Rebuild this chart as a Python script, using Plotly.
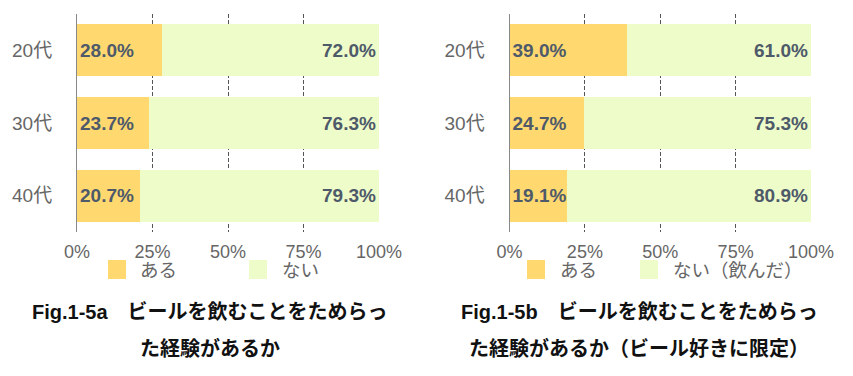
import plotly.graph_objects as go

# ---- data ----
ages = ["20代", "30代", "40代"]
a_names = ["ある", "ない"]
a_aru = [28.0, 23.7, 20.7]
a_nai = [72.0, 76.3, 79.3]
b_names = ["ある", "ない（飲んだ）"]
b_aru = [39.0, 24.7, 19.1]
b_nai = [61.0, 75.3, 80.9]
x_ticks = [0, 25, 50, 75, 100]
x_tick_labels = ["0%", "25%", "50%", "75%", "100%"]
title_a = ["Fig.1-5a　ビールを飲むことをためらっ", "た経験があるか"]
title_b = ["Fig.1-5b　ビールを飲むことをためらっ", "た経験があるか（ビール好きに限定）"]

# ---- style ----
W, H = 853, 376
C_ARU = "#FFD970"
C_NAI = "#EEFCC9"
LBL = "#4E5A6A"
GRAY = "#666666"
FONT = "Liberation Sans, Noto Sans CJK JP, sans-serif"

fig = go.Figure()


def add_pair(aru, nai, xa, ya):
    fig.add_trace(go.Bar(
        y=ages, x=aru, orientation="h", marker=dict(color=C_ARU, line=dict(width=0)),
        text=[f"{v:.1f}%" for v in aru], textposition="inside", insidetextanchor="start",
        textfont=dict(family=FONT, size=19, color=LBL, weight="bold"),
        constraintext="none", xaxis=xa, yaxis=ya, showlegend=False, hoverinfo="skip"))
    fig.add_trace(go.Bar(
        y=ages, x=nai, orientation="h", marker=dict(color=C_NAI, line=dict(width=0)),
        text=[f"{v:.1f}%" for v in nai], textposition="inside", insidetextanchor="end",
        textfont=dict(family=FONT, size=19, color=LBL, weight="bold"),
        constraintext="none", xaxis=xa, yaxis=ya, showlegend=False, hoverinfo="skip"))


add_pair(a_aru, a_nai, "x", "y")
add_pair(b_aru, b_nai, "x2", "y2")

ydom = [(H - 232) / H, (H - 14) / H]
xcommon = dict(range=[0, 100], tickvals=x_ticks, ticktext=x_tick_labels,
               showgrid=True, gridcolor="#555555", griddash="4px,2px", gridwidth=1,
               zeroline=False, showline=False, automargin=False,
               ticks="outside", ticklen=3, tickcolor="rgba(0,0,0,0)",
               tickfont=dict(family=FONT, size=18, color=GRAY), fixedrange=True)
ycommon = dict(autorange="reversed", showgrid=False, zeroline=False,
               showline=True, linecolor="#888888", linewidth=1, automargin=False,
               ticks="outside", ticklen=20, tickcolor="rgba(0,0,0,0)",
               tickfont=dict(family=FONT, size=19, color=GRAY), fixedrange=True)

fig.update_layout(
    width=W, height=H, autosize=False,
    margin=dict(l=0, r=0, t=0, b=0, pad=0),
    paper_bgcolor="white", plot_bgcolor="white",
    barmode="stack", bargap=0.28,
    showlegend=False,
    xaxis=dict(domain=[77 / W, 379 / W], anchor="y", **xcommon),
    yaxis=dict(domain=ydom, anchor="x", **ycommon),
    xaxis2=dict(domain=[509.5 / W, 811 / W], anchor="y2", **xcommon),
    yaxis2=dict(domain=ydom, anchor="x2", **ycommon),
)

# ---- legends (square + label) ----
legend_items = [
    (108, 138, C_ARU, a_names[0]),
    (249, 280, C_NAI, a_names[1]),
    (527, 558, C_ARU, b_names[0]),
    (640, 671, C_NAI, b_names[1]),
]
for sx, tx, col, name in legend_items:
    fig.add_shape(type="rect", xref="paper", yref="paper",
                  x0=sx / W, x1=(sx + 18) / W, y0=(H - 279) / H, y1=(H - 260) / H,
                  fillcolor=col, line=dict(width=0))
    fig.add_annotation(xref="paper", yref="paper", x=tx / W, y=(H - 270) / H,
                       text=name, showarrow=False, xanchor="left", yanchor="middle",
                       font=dict(family=FONT, size=18.5, color=GRAY))

# ---- titles ----
for cx, lines in [(210, title_a), (639, title_b)]:
    for yy, line in zip([311.5, 348], lines):
        fig.add_annotation(xref="paper", yref="paper", x=cx / W, y=(H - yy) / H,
                           text=f"<b>{line}</b>", showarrow=False,
                           xanchor="center", yanchor="middle",
                           font=dict(family=FONT, size=20, color="#111111"))

fig.write_html(
    "out.html",
    config={"responsive": False, "displayModeBar": False},
    post_script="document.body.style.margin='0';document.body.style.overflow='hidden';",
)
